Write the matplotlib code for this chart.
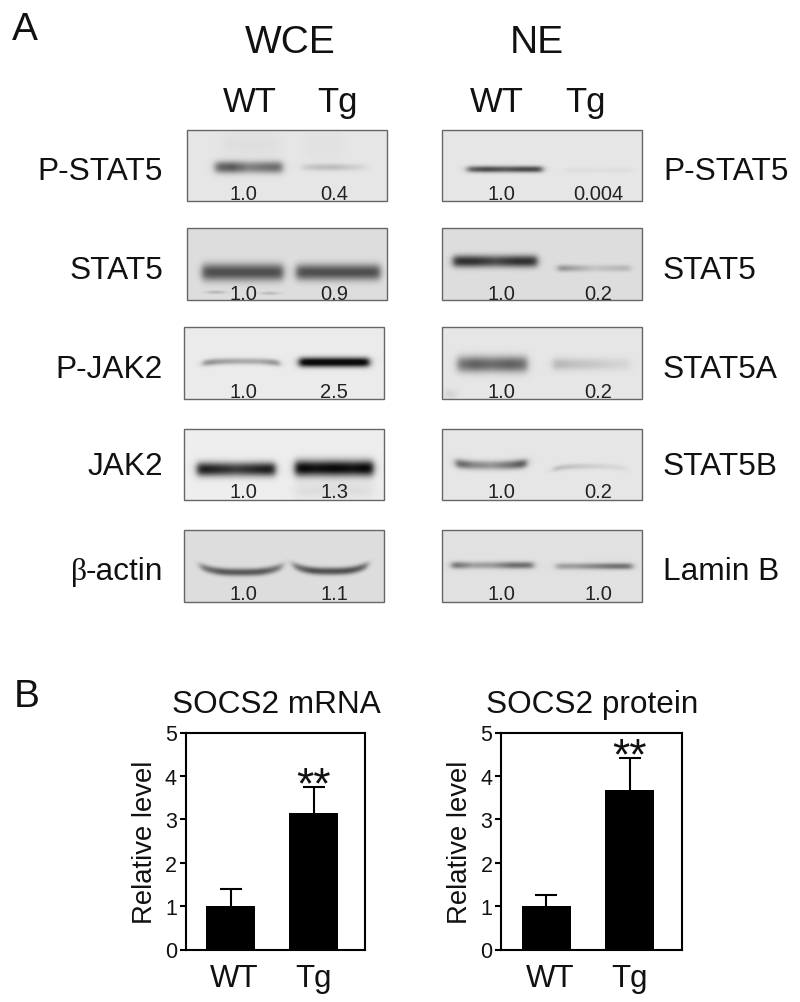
import numpy as np
import matplotlib
matplotlib.use('Agg')
import matplotlib.pyplot as plt
from matplotlib.patches import Rectangle

plt.rcParams['font.family'] = ['Liberation Sans', 'DejaVu Sans']

# densitometry numbers printed under the bands
wce_labels = ['P-STAT5', 'STAT5', 'P-JAK2', 'JAK2', '-actin']
wce_wt = ['1.0', '1.0', '1.0', '1.0', '1.0']
wce_tg = ['0.4', '0.9', '2.5', '1.3', '1.1']
ne_labels = ['P-STAT5', 'STAT5', 'STAT5A', 'STAT5B', 'Lamin B']
ne_wt = ['1.0', '1.0', '1.0', '1.0', '1.0']
ne_tg = ['0.004', '0.2', '0.2', '0.2', '1.0']

# bar charts
groups = ['WT', 'Tg']
mrna_mean = [1.0, 3.15]
mrna_err = [0.39, 0.59]
protein_mean = [1.0, 3.67]
protein_err = [0.26, 0.75]

# how dark each blot looks: background grey, then WT and Tg band darkness
wce_bg = [0.90, 0.87, 0.92, 0.93, 0.87]
wce_dark_wt = [0.55, 0.56, 0.42, 0.85, 0.52]
wce_dark_tg = [0.16, 0.56, 0.95, 0.95, 0.55]
ne_bg = [0.90, 0.87, 0.90, 0.90, 0.88]
ne_dark_wt = [0.62, 0.68, 0.52, 0.62, 0.50]
ne_dark_tg = [0.04, 0.34, 0.20, 0.16, 0.44]

# darkness along each band, left to right (WT then Tg)
wce_lumps = [
    [[0.9, 1.0, 0.7, 0.8, 0.9], [0.6, 0.9, 1.0, 0.6, 0.3]],
    [[1, 1, 1, 1, 1], [1, 1, 1, 1, 1]],
    [[0.9, 0.7, 0.6, 0.6, 0.9], [1, 1, 1, 1, 1]],
    [[1, 0.9, 0.8, 0.9, 1], [1, 0.9, 0.95, 0.9, 1]],
    [[0.7, 1, 1, 1, 0.7], [0.7, 1, 1, 1, 0.8]],
]
ne_lumps = [
    [[0.8, 1, 0.9, 1, 1], [1, 0.8, 0.6, 0.8, 0.8]],
    [[1, 1, 0.85, 1, 1], [1, 0.6, 0.3, 0.4, 0.5]],
    [[0.8, 1, 0.9, 1, 0.9], [1, 0.7, 0.6, 0.4, 0.3]],
    [[0.9, 0.6, 0.5, 0.7, 1], [1, 0.8, 0.6, 0.4, 0.3]],
    [[1, 0.5, 0.55, 0.9, 0.9], [0.6, 0.6, 0.8, 1, 1]],
]

row_top = [131, 229, 328, 430, 531]
row_bot = [202, 301, 400, 501, 603]
baselines = [180, 279, 378, 475, 580]
num_base = [200, 300, 398, 498, 600]

# band geometry in picture pixels: x0, x1, y, half thickness, sag
wce_bands = [
    [(215, 282, 168, 6.0, 0), (302, 367, 168, 3.5, 0)],
    [(202, 283, 273, 8.5, 0), (296, 380, 273, 8.0, 0)],
    [(203, 279, 362, 3.2, -2), (299, 369, 363, 4.8, 0)],
    [(197, 275, 470, 7.0, 0), (295, 373, 469, 8.0, 0)],
    [(200, 282, 573, 3.8, 6), (293, 367, 572, 3.8, 6)],
]
ne_bands = [
    [(467, 542, 170, 3.2, 0), (567, 632, 171, 2.4, 0)],
    [(453, 537, 262, 6.0, 0), (558, 630, 269, 3.4, 0)],
    [(457, 527, 365, 8.0, 0), (553, 630, 365, 6.0, 0)],
    [(456, 526, 466, 4.5, 2), (553, 627, 467, 2.8, -3)],
    [(452, 533, 566, 3.5, 0), (556, 632, 567, 3.2, 0)],
]

# faint smears and stray marks: x0, x1, y, half thickness, darkness
wce_extras = [
    [(222, 280, 145, 14, 0.025), (305, 340, 145, 14, 0.02)],
    [(208, 223, 293, 1.5, 0.2), (262, 277, 294, 1.5, 0.18)],
    [],
    [(295, 373, 491, 9, 0.06)],
    [],
]
ne_extras = [[], [], [(447, 453, 395, 5, 0.15)], [], []]


def blot_image(x0, x1, y0, y1, bg, bands, darks, lumps, extras):
    xs = np.arange(x0, x1, 0.5)
    ys = np.arange(y0, y1, 0.5)
    xx, yy = np.meshgrid(xs, ys)
    img = np.full(xx.shape, bg, dtype=float)
    for (bx0, bx1, by, ht, sag), dark, lump in zip(bands, darks, lumps):
        t = (xx - (bx0 + bx1) / 2) / ((bx1 - bx0) / 2)
        centre = by - sag * np.clip(np.abs(t), 0, 1.2) ** 3
        across = np.exp(-np.abs((yy - centre) / ht) ** 2.2)
        along = 0.5 * (np.tanh((xx - bx0) / 4) - np.tanh((xx - bx1) / 4))
        along = along * np.interp(t, [-1, -0.5, 0, 0.5, 1], lump)
        img -= dark * across * along
    for bx0, bx1, by, ht, dark in extras:
        across = np.exp(-((yy - by) / ht) ** 2)
        along = 0.5 * (np.tanh((xx - bx0) / 6) - np.tanh((xx - bx1) / 6))
        img -= dark * across * along
    return np.clip(img, 0.05, 1)


fig = plt.figure(figsize=(8, 10.03), dpi=100)
canvas = fig.add_axes([0, 0, 1, 1])


def draw_column(x0, x1, rows_x, wt, tg, bg, bands, dark_wt, dark_tg, lumps, extras, wt_x, tg_x):
    for i in range(5):
        xa = x0 + rows_x[i]
        xb = x1 + rows_x[i]
        img = blot_image(xa, xb, row_top[i], row_bot[i], bg[i], bands[i], [dark_wt[i], dark_tg[i]],
                         lumps[i], extras[i])
        canvas.imshow(img, cmap='gray', vmin=0, vmax=1, aspect='auto', interpolation='bilinear',
                      extent=[xa, xb, row_bot[i], row_top[i]])
        canvas.add_patch(Rectangle((xa, row_top[i]), xb - xa, row_bot[i] - row_top[i],
                                   fill=False, edgecolor='#666666', lw=1.0))
        canvas.text(wt_x, num_base[i], wt[i], ha='center', va='baseline', fontsize=14.5, color='#222222')
        canvas.text(tg_x, num_base[i], tg[i], ha='center', va='baseline', fontsize=14.5, color='#222222')


draw_column(187, 387, [0, 0, -3, -3, -3], wce_wt, wce_tg, wce_bg, wce_bands,
            wce_dark_wt, wce_dark_tg, wce_lumps, wce_extras, 243, 334)
draw_column(442, 642, [0, 0, 0, 0, 0], ne_wt, ne_tg, ne_bg, ne_bands,
            ne_dark_wt, ne_dark_tg, ne_lumps, ne_extras, 501, 598)

for i in range(5):
    canvas.text(163, baselines[i], wce_labels[i], ha='right', va='baseline', fontsize=22.8, color='#111111')
    canvas.text(663, baselines[i], ne_labels[i], ha='left', va='baseline', fontsize=22.8, color='#111111')
canvas.text(71, 580, '\u03b2', ha='left', va='baseline', fontsize=22.8, family='Liberation Serif', color='#111111')

canvas.text(12, 40, 'A', fontsize=28, va='baseline', color='#111111')
canvas.text(14, 707, 'B', fontsize=28, va='baseline', color='#111111')
canvas.text(290, 53, 'WCE', fontsize=28, ha='center', va='baseline', color='#111111')
canvas.text(537, 53, 'NE', fontsize=28, ha='center', va='baseline', color='#111111')
canvas.text(250, 112, groups[0], fontsize=25, ha='center', va='baseline', color='#111111')
canvas.text(337, 112, groups[1], fontsize=25, ha='center', va='baseline', color='#111111')
canvas.text(497, 112, groups[0], fontsize=25, ha='center', va='baseline', color='#111111')
canvas.text(585, 112, groups[1], fontsize=25, ha='center', va='baseline', color='#111111')
canvas.text(276, 713, 'SOCS2 mRNA', fontsize=22.7, ha='center', va='baseline', color='#111111')
canvas.text(592, 713, 'SOCS2 protein', fontsize=22.7, ha='center', va='baseline', color='#111111')
canvas.set_xlim(0, 800)
canvas.set_ylim(1003, 0)
canvas.axis('off')


def bar_panel(left, right, means, errs, star_y):
    top, bottom = 733.5, 950.5
    ax = fig.add_axes([left / 800, 1 - bottom / 1003, (right - left) / 800, (bottom - top) / 1003])
    ax.bar([1, 2], means, width=0.59, color='black', zorder=3)
    # upper whisker only, cap drawn as a marker so nothing sticks out of the bar top
    ax.errorbar([1, 2], means, yerr=[[0, 0], errs], fmt='none', ecolor='black', elinewidth=1.5, zorder=2)
    ax.plot([1, 2], np.array(means) + np.array(errs), linestyle='none', marker='_', color='black',
            markersize=16, markeredgewidth=1.5, zorder=2)
    ax.set_xlim(0.464, 2.62)
    ax.set_ylim(0, 5)
    ax.set_xticks([1.05, 2.0])
    ax.set_xticklabels(groups, fontsize=22.5, color='#111111')
    ax.set_yticks([0, 1, 2, 3, 4, 5])
    ax.tick_params(axis='x', length=0, pad=10)
    ax.tick_params(axis='y', length=4.5, width=1.5, labelsize=15.5, pad=2, labelcolor='#111111')
    for s in ax.spines.values():
        s.set_linewidth(1.5)
    ax.set_ylabel('Relative level', fontsize=19.8, labelpad=5, color='#111111')
    ax.text(2, star_y, '**', fontsize=32, ha='center', va='center', color='#111111')
    return ax


bar_panel(186, 365, mrna_mean, mrna_err, 3.76)
bar_panel(501.5, 681.5, protein_mean, protein_err, 4.44)

fig.savefig('out.png', dpi=100)
